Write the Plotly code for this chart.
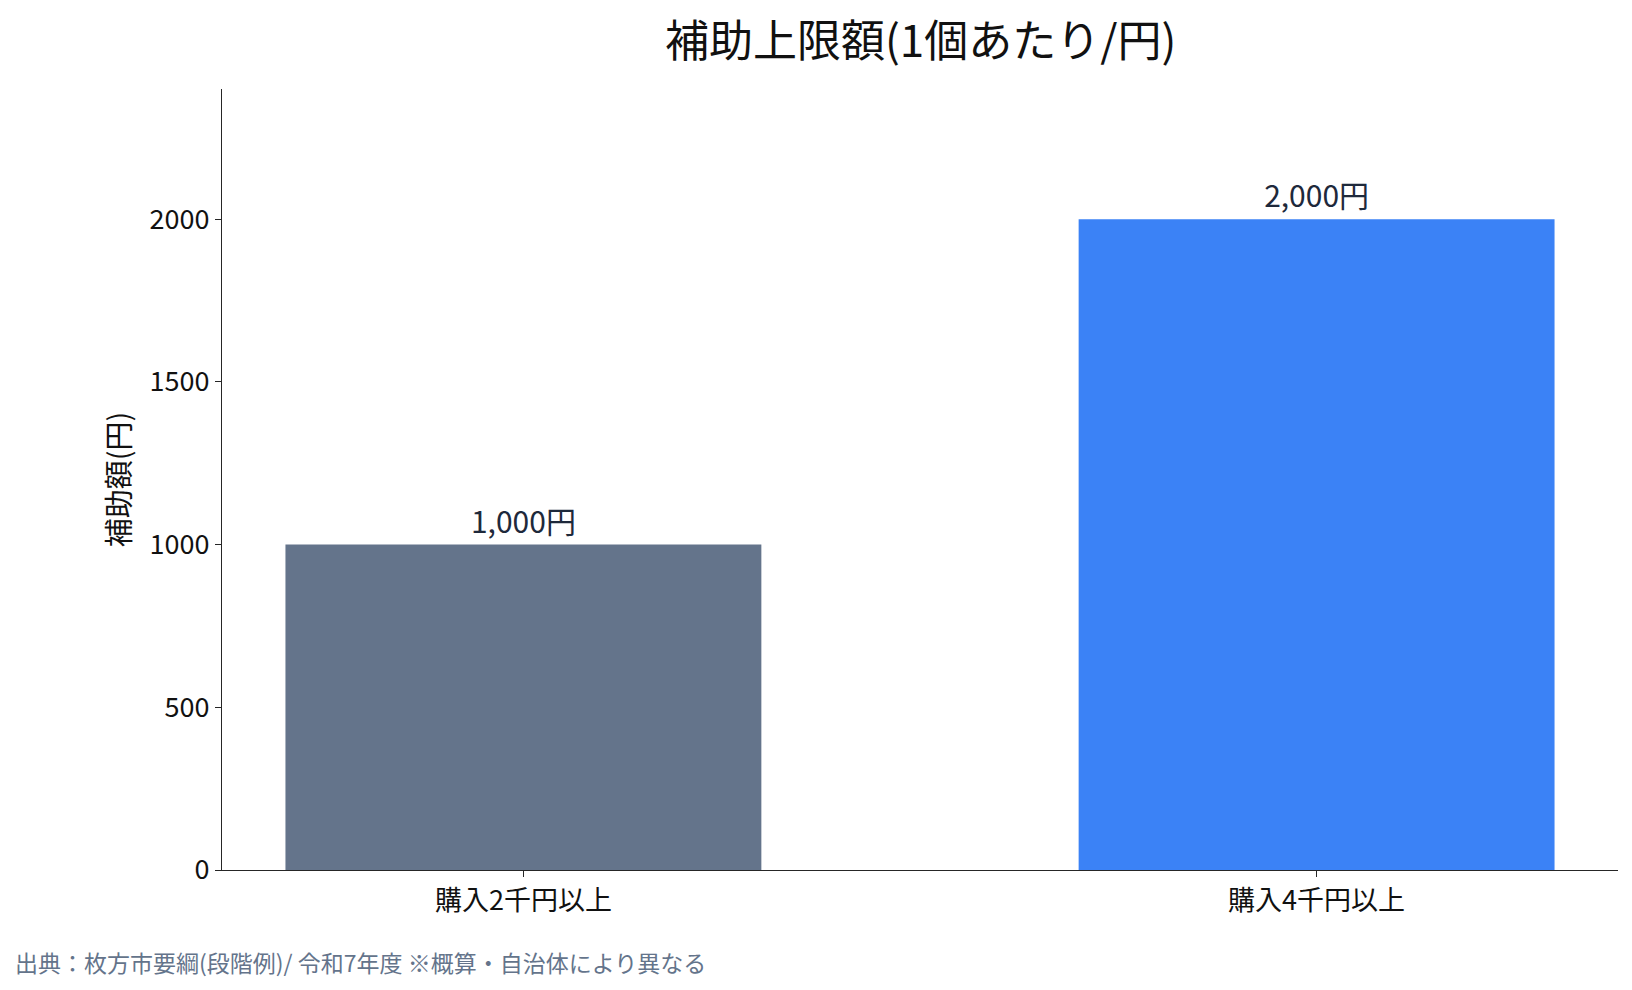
import plotly.graph_objects as go

# 補助上限額データ
categories = ["購入2千円以上", "購入4千円以上"]
amounts = [1000, 2000]
bar_colors = ["#64748b", "#3b82f6"]
labels = [f"{v:,}円" for v in amounts]

title_text = "補助上限額(1個あたり/円)"
y_title = "補助額(円)"
source_note = "出典：枚方市要綱(段階例)/ 令和7年度 ※概算・自治体により異なる"

FONT = "Noto Sans CJK JP"
AXIS = "#262626"

# the page body has an 8px margin, so the figure is a bit smaller than the window
W, H = 1624, 974
L, R, T, B = 214, 14, 81, 112
PW, PH = W - L - R, H - T - B

fig = go.Figure(
    go.Bar(
        x=categories,
        y=amounts,
        marker=dict(color=bar_colors, line=dict(width=0)),
        text=labels,
        textposition="outside",
        textfont=dict(family=FONT, size=30, color="#1e293b"),
        cliponaxis=False,
        width=0.6,
    )
)

fig.update_layout(
    width=W,
    height=H,
    plot_bgcolor="white",
    paper_bgcolor="white",
    margin=dict(l=L, r=R, t=T, b=B),
    font=dict(family=FONT, size=27, color="#111111"),
    showlegend=False,
)

fig.update_xaxes(
    range=[-0.38, 1.38],
    showline=True,
    linecolor=AXIS,
    linewidth=1.3,
    ticks="outside",
    ticklen=6,
    tickcolor=AXIS,
    showgrid=False,
    tickfont=dict(size=27, color="#111111"),
)

fig.update_yaxes(
    range=[0, 2400],
    tickvals=[0, 500, 1000, 1500, 2000],
    showline=True,
    linecolor=AXIS,
    linewidth=1.3,
    ticks="outside",
    ticklen=6,
    tickcolor=AXIS,
    showgrid=False,
    zeroline=False,
    tickfont=dict(size=27, color="#111111"),
    title=dict(text=y_title, font=dict(size=29, color="#111111"), standoff=10),
)

# title as an annotation centred over the plot area
fig.add_annotation(
    text=title_text,
    xref="paper",
    yref="paper",
    x=0.5,
    y=1 + (T - 30) / PH,
    xanchor="center",
    yanchor="middle",
    showarrow=False,
    font=dict(family=FONT, size=44, color="#111111"),
)

fig.add_annotation(
    text=source_note,
    xref="paper",
    yref="paper",
    x=(5 - L) / PW,
    y=-(954 - (T + PH)) / PH,
    xanchor="left",
    yanchor="middle",
    showarrow=False,
    font=dict(family=FONT, size=23, color="#64748b"),
)

fig.write_html("out.html")
